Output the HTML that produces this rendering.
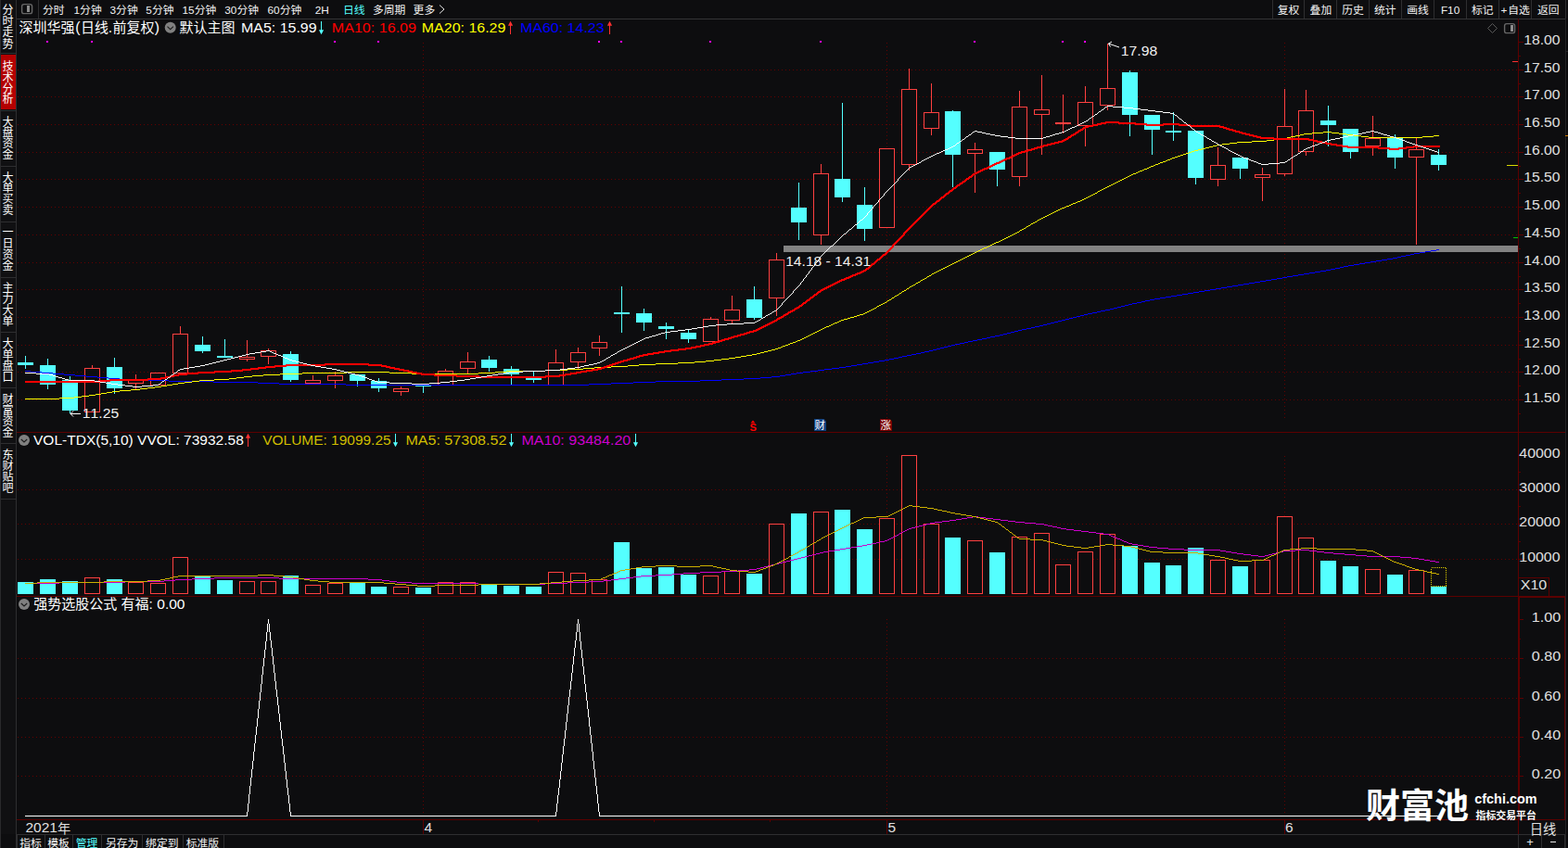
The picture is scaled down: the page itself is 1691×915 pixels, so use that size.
<!DOCTYPE html><html><head><meta charset="utf-8"><title>chart</title><style>html,body{margin:0;padding:0;background:#0d0d0f;width:1691px;height:915px;overflow:hidden;font-family:"Liberation Sans","Noto Sans CJK SC",sans-serif}</style></head><body><svg width="1691" height="915" viewBox="0 0 1691 915" font-family="'Liberation Sans', 'Noto Sans CJK SC', sans-serif" shape-rendering="crispEdges" style="display:block;font-kerning:none"><rect x="0" y="0" width="1691" height="915" fill="#0d0d0f"/>
<rect x="0" y="0" width="17" height="900" fill="#101012"/>
<rect x="0" y="0" width="1" height="915" fill="#2a2a2c"/>
<rect x="17" y="0" width="1" height="915" fill="#2e2e30"/>
<rect x="1" y="59" width="16" height="59" fill="#b40000"/>
<text font-size="12" fill="#ffffff"><tspan x="2.6" y="14.8">分</tspan><tspan x="2.6" y="27">时</tspan><tspan x="2.6" y="39.4">走</tspan><tspan x="2.6" y="51.7">势</tspan></text>
<text font-size="12" fill="#ffffff"><tspan x="2.6" y="75.7">技</tspan><tspan x="2.6" y="87.6">术</tspan><tspan x="2.6" y="99.5">分</tspan><tspan x="2.6" y="111.4">析</tspan></text>
<text font-size="12" fill="#ffffff"><tspan x="2.6" y="135.6">大</tspan><tspan x="2.6" y="147.3">盘</tspan><tspan x="2.6" y="159.4">资</tspan><tspan x="2.6" y="171">金</tspan></text>
<text font-size="12" fill="#ffffff"><tspan x="2.6" y="195.5">大</tspan><tspan x="2.6" y="207.4">单</tspan><tspan x="2.6" y="219.3">买</tspan><tspan x="2.6" y="231.2">卖</tspan></text>
<text font-size="12" fill="#ffffff"><tspan x="2.6" y="255.4">一</tspan><tspan x="2.6" y="267.3">日</tspan><tspan x="2.6" y="279.2">资</tspan><tspan x="2.6" y="290.8">金</tspan></text>
<text font-size="12" fill="#ffffff"><tspan x="2.6" y="315">主</tspan><tspan x="2.6" y="327.2">力</tspan><tspan x="2.6" y="339.1">大</tspan><tspan x="2.6" y="351">单</tspan></text>
<text font-size="12" fill="#ffffff"><tspan x="2.6" y="375.2">大</tspan><tspan x="2.6" y="387.1">单</tspan><tspan x="2.6" y="398.8">盘</tspan><tspan x="2.6" y="410.8">口</tspan></text>
<text font-size="12" fill="#ffffff"><tspan x="2.6" y="435.1">财</tspan><tspan x="2.6" y="447">富</tspan><tspan x="2.6" y="458.9">资</tspan><tspan x="2.6" y="470.5">金</tspan></text>
<text font-size="12" fill="#ffffff"><tspan x="2.6" y="494.9">东</tspan><tspan x="2.6" y="506.9">财</tspan><tspan x="2.6" y="518.8">贴</tspan><tspan x="2.6" y="530.6">吧</tspan></text>
<rect x="1" y="119" width="16" height="1" fill="#2e2e30"/>
<rect x="1" y="179" width="16" height="1" fill="#2e2e30"/>
<rect x="1" y="239" width="16" height="1" fill="#2e2e30"/>
<rect x="1" y="299" width="16" height="1" fill="#2e2e30"/>
<rect x="1" y="358" width="16" height="1" fill="#2e2e30"/>
<rect x="1" y="418" width="16" height="1" fill="#2e2e30"/>
<rect x="1" y="478" width="16" height="1" fill="#2e2e30"/>
<rect x="1" y="538" width="16" height="1" fill="#2e2e30"/>
<rect x="1" y="57" width="16" height="1" fill="#2e2e30"/>
<rect x="18" y="20" width="1673" height="1" fill="#343436"/>
<rect x="41" y="0" width="1" height="20" fill="#2e2e30"/>
<rect x="23.6" y="4.6" width="11" height="10" rx="2.2" fill="none" stroke="#666" stroke-width="1.4" shape-rendering="auto"/>
<rect x="29" y="6" width="3" height="7" fill="#8c8c8c"/>
<text x="46" y="14.8" font-size="11.8" fill="#f2f2f2">分时</text>
<text x="79.4" y="15" font-size="11.8" fill="#f2f2f2">1</text>
<text x="86.1" y="14.8" font-size="11.8" fill="#f2f2f2">分钟</text>
<text x="118.4" y="15" font-size="11.8" fill="#f2f2f2">3</text>
<text x="125.1" y="14.8" font-size="11.8" fill="#f2f2f2">分钟</text>
<text x="157.2" y="15" font-size="11.8" fill="#f2f2f2">5</text>
<text x="163.9" y="14.8" font-size="11.8" fill="#f2f2f2">分钟</text>
<text x="196.4" y="15" font-size="11.8" fill="#f2f2f2">15</text>
<text x="209.7" y="14.8" font-size="11.8" fill="#f2f2f2">分钟</text>
<text x="242.2" y="15" font-size="11.8" fill="#f2f2f2">30</text>
<text x="255.5" y="14.8" font-size="11.8" fill="#f2f2f2">分钟</text>
<text x="288.4" y="15" font-size="11.8" fill="#f2f2f2">60</text>
<text x="301.7" y="14.8" font-size="11.8" fill="#f2f2f2">分钟</text>
<text x="339.7" y="15" font-size="11.8" fill="#f2f2f2">2H</text>
<text x="402" y="14.8" font-size="11.8" fill="#f2f2f2">多周期</text>
<text x="445.6" y="14.8" font-size="11.8" fill="#f2f2f2">更多</text>
<text x="370" y="14.8" font-size="11.8" fill="#54ffff">日线</text>
<path d="M474 5.5 L479 10 L474 14.5" fill="none" stroke="#e6e6e6" stroke-width="1" shape-rendering="auto"/>
<rect x="1372" y="0" width="1" height="20" fill="#2e2e30"/>
<rect x="1406" y="0" width="1" height="20" fill="#2e2e30"/>
<rect x="1441" y="0" width="1" height="20" fill="#2e2e30"/>
<rect x="1476" y="0" width="1" height="20" fill="#2e2e30"/>
<rect x="1511" y="0" width="1" height="20" fill="#2e2e30"/>
<rect x="1546" y="0" width="1" height="20" fill="#2e2e30"/>
<rect x="1581" y="0" width="1" height="20" fill="#2e2e30"/>
<rect x="1616" y="0" width="1" height="20" fill="#2e2e30"/>
<rect x="1651" y="0" width="1" height="20" fill="#2e2e30"/>
<rect x="1688" y="0" width="1" height="20" fill="#2e2e30"/>
<text x="1377.8" y="14.8" font-size="11.8" fill="#f2f2f2">复权</text>
<text x="1412.6" y="14.8" font-size="11.8" fill="#f2f2f2">叠加</text>
<text x="1447.2" y="14.8" font-size="11.8" fill="#f2f2f2">历史</text>
<text x="1482" y="14.8" font-size="11.8" fill="#f2f2f2">统计</text>
<text x="1517.3" y="14.8" font-size="11.8" fill="#f2f2f2">画线</text>
<text x="1553.88" y="15" font-size="11.8" fill="#f2f2f2">F10</text>
<text x="1587" y="14.8" font-size="11.8" fill="#f2f2f2">标记</text>
<text x="1618.5" y="15" font-size="11.8" fill="#f2f2f2">+</text>
<text x="1626.3" y="14.8" font-size="11.8" fill="#f2f2f2">自选</text>
<text x="1657.9" y="14.8" font-size="11.8" fill="#f2f2f2">返回</text>
<path d="M1609.5 25.5 L1614.5 30.5 L1609.5 35.5 L1604.5 30.5 Z" fill="none" stroke="#5a5a5a" shape-rendering="auto"/>
<rect x="1622.6" y="25.6" width="11" height="10" rx="2.2" fill="none" stroke="#666" stroke-width="1.4" shape-rendering="auto"/>
<rect x="1629" y="27" width="3" height="7" fill="#8c8c8c"/>
<rect x="1688" y="20" width="1" height="895" fill="#232325"/>
<rect x="1689" y="20" width="2" height="895" fill="#0a0a0c"/>
<rect x="1688" y="146" width="3" height="1" fill="#c87800"/>
<rect x="1688" y="55" width="3" height="1" fill="#232325"/>
<rect x="18" y="466" width="1670" height="1" fill="#5c0000"/>
<rect x="18" y="643" width="1670" height="1" fill="#5c0000"/>
<rect x="18" y="884" width="1670" height="1" fill="#5c0000"/>
<rect x="18" y="900" width="1670" height="1" fill="#2e2e30"/>
<rect x="1637" y="20" width="1" height="880" fill="#5c0000"/>
<rect x="1638" y="643" width="1" height="241" fill="#5c0000"/>
<rect x="1687" y="643" width="1" height="241" fill="#5c0000"/>
<rect x="1637" y="644" width="51" height="1" fill="#5c0000"/>
<rect x="1637" y="623" width="34" height="1" fill="#5c0000"/>
<rect x="1670" y="623" width="1" height="20" fill="#5c0000"/>
<line x1="19" y1="75.5" x2="1637" y2="75.5" stroke="#640000" stroke-dasharray="1 3"/>
<line x1="19" y1="104.5" x2="1637" y2="104.5" stroke="#640000" stroke-dasharray="1 3"/>
<line x1="19" y1="134.5" x2="1637" y2="134.5" stroke="#640000" stroke-dasharray="1 3"/>
<line x1="19" y1="164.5" x2="1637" y2="164.5" stroke="#640000" stroke-dasharray="1 3"/>
<line x1="19" y1="193.5" x2="1637" y2="193.5" stroke="#640000" stroke-dasharray="1 3"/>
<line x1="19" y1="223.5" x2="1637" y2="223.5" stroke="#640000" stroke-dasharray="1 3"/>
<line x1="19" y1="253.5" x2="1637" y2="253.5" stroke="#640000" stroke-dasharray="1 3"/>
<line x1="19" y1="283.5" x2="1637" y2="283.5" stroke="#640000" stroke-dasharray="1 3"/>
<line x1="19" y1="312.5" x2="1637" y2="312.5" stroke="#640000" stroke-dasharray="1 3"/>
<line x1="19" y1="342.5" x2="1637" y2="342.5" stroke="#640000" stroke-dasharray="1 3"/>
<line x1="19" y1="372.5" x2="1637" y2="372.5" stroke="#640000" stroke-dasharray="1 3"/>
<line x1="19" y1="401.5" x2="1637" y2="401.5" stroke="#640000" stroke-dasharray="1 3"/>
<line x1="19" y1="431.5" x2="1637" y2="431.5" stroke="#640000" stroke-dasharray="1 3"/>
<line x1="19" y1="528.5" x2="1637" y2="528.5" stroke="#640000" stroke-dasharray="1 3"/>
<line x1="19" y1="565.5" x2="1637" y2="565.5" stroke="#640000" stroke-dasharray="1 3"/>
<line x1="19" y1="603.5" x2="1637" y2="603.5" stroke="#640000" stroke-dasharray="1 3"/>
<line x1="19" y1="710.5" x2="1637" y2="710.5" stroke="#640000" stroke-dasharray="1 3"/>
<line x1="19" y1="753.5" x2="1637" y2="753.5" stroke="#640000" stroke-dasharray="1 3"/>
<line x1="19" y1="795.5" x2="1637" y2="795.5" stroke="#640000" stroke-dasharray="1 3"/>
<line x1="19" y1="837.5" x2="1637" y2="837.5" stroke="#640000" stroke-dasharray="1 3"/>
<line x1="456.5" y1="46" x2="456.5" y2="452" stroke="#640000" stroke-dasharray="1 3"/>
<line x1="456.5" y1="492" x2="456.5" y2="641" stroke="#640000" stroke-dasharray="1 3"/>
<line x1="456.5" y1="668" x2="456.5" y2="881" stroke="#640000" stroke-dasharray="1 3"/>
<rect x="456" y="884" width="1" height="16" fill="#5c0000"/>
<line x1="956.5" y1="46" x2="956.5" y2="452" stroke="#640000" stroke-dasharray="1 3"/>
<line x1="956.5" y1="492" x2="956.5" y2="641" stroke="#640000" stroke-dasharray="1 3"/>
<line x1="956.5" y1="668" x2="956.5" y2="881" stroke="#640000" stroke-dasharray="1 3"/>
<rect x="956" y="884" width="1" height="16" fill="#5c0000"/>
<line x1="1385.5" y1="46" x2="1385.5" y2="452" stroke="#640000" stroke-dasharray="1 3"/>
<line x1="1385.5" y1="492" x2="1385.5" y2="641" stroke="#640000" stroke-dasharray="1 3"/>
<line x1="1385.5" y1="668" x2="1385.5" y2="881" stroke="#640000" stroke-dasharray="1 3"/>
<rect x="1385" y="884" width="1" height="16" fill="#5c0000"/>
<rect x="580" y="885" width="1" height="2" fill="#5c0000"/>
<rect x="705" y="885" width="1" height="2" fill="#5c0000"/>
<rect x="830" y="885" width="1" height="2" fill="#5c0000"/>
<rect x="1637" y="45" width="6" height="1" fill="#5c0000"/>
<rect x="1637" y="60" width="3" height="1" fill="#5c0000"/>
<rect x="1637" y="75" width="6" height="1" fill="#5c0000"/>
<rect x="1637" y="90" width="3" height="1" fill="#5c0000"/>
<rect x="1637" y="104" width="6" height="1" fill="#5c0000"/>
<rect x="1637" y="119" width="3" height="1" fill="#5c0000"/>
<rect x="1637" y="134" width="6" height="1" fill="#5c0000"/>
<rect x="1637" y="149" width="3" height="1" fill="#5c0000"/>
<rect x="1637" y="164" width="6" height="1" fill="#5c0000"/>
<rect x="1637" y="179" width="3" height="1" fill="#5c0000"/>
<rect x="1637" y="193" width="6" height="1" fill="#5c0000"/>
<rect x="1637" y="208" width="3" height="1" fill="#5c0000"/>
<rect x="1637" y="223" width="6" height="1" fill="#5c0000"/>
<rect x="1637" y="238" width="3" height="1" fill="#5c0000"/>
<rect x="1637" y="253" width="6" height="1" fill="#5c0000"/>
<rect x="1637" y="268" width="3" height="1" fill="#5c0000"/>
<rect x="1637" y="283" width="6" height="1" fill="#5c0000"/>
<rect x="1637" y="298" width="3" height="1" fill="#5c0000"/>
<rect x="1637" y="312" width="6" height="1" fill="#5c0000"/>
<rect x="1637" y="327" width="3" height="1" fill="#5c0000"/>
<rect x="1637" y="342" width="6" height="1" fill="#5c0000"/>
<rect x="1637" y="357" width="3" height="1" fill="#5c0000"/>
<rect x="1637" y="372" width="6" height="1" fill="#5c0000"/>
<rect x="1637" y="387" width="3" height="1" fill="#5c0000"/>
<rect x="1637" y="401" width="6" height="1" fill="#5c0000"/>
<rect x="1637" y="416" width="3" height="1" fill="#5c0000"/>
<rect x="1637" y="431" width="6" height="1" fill="#5c0000"/>
<rect x="1637" y="446" width="3" height="1" fill="#5c0000"/>
<rect x="1637" y="491" width="6" height="1" fill="#5c0000"/>
<rect x="1637" y="528" width="6" height="1" fill="#5c0000"/>
<rect x="1637" y="565" width="6" height="1" fill="#5c0000"/>
<rect x="1637" y="603" width="6" height="1" fill="#5c0000"/>
<rect x="1637" y="509" width="3" height="1" fill="#5c0000"/>
<rect x="1637" y="546" width="3" height="1" fill="#5c0000"/>
<rect x="1637" y="584" width="3" height="1" fill="#5c0000"/>
<rect x="1637" y="668" width="6" height="1" fill="#5c0000"/>
<rect x="1637" y="710" width="6" height="1" fill="#5c0000"/>
<rect x="1637" y="753" width="6" height="1" fill="#5c0000"/>
<rect x="1637" y="795" width="6" height="1" fill="#5c0000"/>
<rect x="1637" y="837" width="6" height="1" fill="#5c0000"/>
<rect x="1637" y="689" width="3" height="1" fill="#5c0000"/>
<rect x="1637" y="731" width="3" height="1" fill="#5c0000"/>
<rect x="1637" y="774" width="3" height="1" fill="#5c0000"/>
<rect x="1637" y="816" width="3" height="1" fill="#5c0000"/>
<rect x="1637" y="858" width="3" height="1" fill="#5c0000"/>
<rect x="1631" y="66" width="6" height="1" fill="#ff3030"/>
<rect x="1625" y="178" width="12" height="1" fill="#d8d800"/>
<rect x="1632" y="256" width="5" height="1" fill="#00c000"/>
<rect x="50" y="44" width="2" height="2" fill="#ff00ff"/>
<rect x="98" y="44" width="2" height="2" fill="#ff00ff"/>
<rect x="360" y="44" width="2" height="2" fill="#ff00ff"/>
<rect x="407" y="44" width="2" height="2" fill="#ff00ff"/>
<rect x="645" y="44" width="2" height="2" fill="#ff00ff"/>
<rect x="669" y="44" width="2" height="2" fill="#ff00ff"/>
<rect x="765" y="44" width="2" height="2" fill="#ff00ff"/>
<rect x="884" y="44" width="2" height="2" fill="#ff00ff"/>
<rect x="1050" y="44" width="2" height="2" fill="#ff00ff"/>
<rect x="1145" y="44" width="2" height="2" fill="#ff00ff"/>
<rect x="1169" y="44" width="2" height="2" fill="#ff00ff"/>
<rect x="845" y="265" width="792" height="7" fill="#828282"/>
<rect x="27" y="384" width="1" height="14" fill="#54ffff"/>
<rect x="19" y="391" width="17" height="3" fill="#54ffff"/>
<rect x="51" y="387" width="1" height="33" fill="#54ffff"/>
<rect x="43" y="394" width="17" height="21" fill="#54ffff"/>
<rect x="75" y="406" width="1" height="40" fill="#54ffff"/>
<rect x="67" y="410" width="17" height="33" fill="#54ffff"/>
<rect x="99" y="394" width="1" height="3" fill="#ff4040"/>
<rect x="91.5" y="397.5" width="16" height="47" fill="#0d0d0f" stroke="#ff4040"/>
<rect x="123" y="386" width="1" height="39" fill="#54ffff"/>
<rect x="115" y="396" width="17" height="23" fill="#54ffff"/>
<rect x="146" y="404" width="1" height="6" fill="#ff4040"/>
<rect x="146" y="414" width="1" height="6" fill="#ff4040"/>
<rect x="138.5" y="410.5" width="16" height="3" fill="#0d0d0f" stroke="#ff4040"/>
<rect x="162.5" y="402.5" width="16" height="13" fill="#0d0d0f" stroke="#ff4040"/>
<rect x="194" y="352" width="1" height="8" fill="#ff4040"/>
<rect x="186.5" y="360.5" width="16" height="42" fill="#0d0d0f" stroke="#ff4040"/>
<rect x="218" y="363" width="1" height="18" fill="#54ffff"/>
<rect x="210" y="372" width="17" height="7" fill="#54ffff"/>
<rect x="242" y="366" width="1" height="20" fill="#54ffff"/>
<rect x="234" y="384" width="17" height="2" fill="#54ffff"/>
<rect x="266" y="367" width="1" height="18" fill="#ff4040"/>
<rect x="266" y="388" width="1" height="2" fill="#ff4040"/>
<rect x="258.5" y="385.5" width="16" height="2" fill="#0d0d0f" stroke="#ff4040"/>
<rect x="289" y="376" width="1" height="2" fill="#ff4040"/>
<rect x="289" y="385" width="1" height="8" fill="#ff4040"/>
<rect x="281.5" y="378.5" width="16" height="6" fill="#0d0d0f" stroke="#ff4040"/>
<rect x="313" y="379" width="1" height="33" fill="#54ffff"/>
<rect x="305" y="382" width="17" height="28" fill="#54ffff"/>
<rect x="337" y="405" width="1" height="5" fill="#ff4040"/>
<rect x="329.5" y="410.5" width="16" height="3" fill="#0d0d0f" stroke="#ff4040"/>
<rect x="361" y="401" width="1" height="4" fill="#ff4040"/>
<rect x="361" y="411" width="1" height="8" fill="#ff4040"/>
<rect x="353.5" y="405.5" width="16" height="5" fill="#0d0d0f" stroke="#ff4040"/>
<rect x="385" y="404" width="1" height="13" fill="#54ffff"/>
<rect x="377" y="404" width="17" height="7" fill="#54ffff"/>
<rect x="408" y="408" width="1" height="15" fill="#54ffff"/>
<rect x="400" y="411" width="17" height="8" fill="#54ffff"/>
<rect x="432" y="417" width="1" height="2" fill="#ff4040"/>
<rect x="432" y="423" width="1" height="4" fill="#ff4040"/>
<rect x="424.5" y="419.5" width="16" height="3" fill="#0d0d0f" stroke="#ff4040"/>
<rect x="456" y="416" width="1" height="8" fill="#54ffff"/>
<rect x="448" y="416" width="17" height="1" fill="#54ffff"/>
<rect x="480" y="398" width="1" height="2" fill="#ff4040"/>
<rect x="472.5" y="400.5" width="16" height="15" fill="#0d0d0f" stroke="#ff4040"/>
<rect x="504" y="380" width="1" height="10" fill="#ff4040"/>
<rect x="504" y="398" width="1" height="6" fill="#ff4040"/>
<rect x="496.5" y="390.5" width="16" height="7" fill="#0d0d0f" stroke="#ff4040"/>
<rect x="527" y="384" width="1" height="17" fill="#54ffff"/>
<rect x="519" y="388" width="17" height="9" fill="#54ffff"/>
<rect x="551" y="395" width="1" height="21" fill="#54ffff"/>
<rect x="543" y="398" width="17" height="6" fill="#54ffff"/>
<rect x="575" y="401" width="1" height="12" fill="#54ffff"/>
<rect x="567" y="408" width="17" height="2" fill="#54ffff"/>
<rect x="599" y="377" width="1" height="14" fill="#ff4040"/>
<rect x="591.5" y="391.5" width="16" height="24" fill="#0d0d0f" stroke="#ff4040"/>
<rect x="623" y="375" width="1" height="5" fill="#ff4040"/>
<rect x="623" y="391" width="1" height="7" fill="#ff4040"/>
<rect x="615.5" y="380.5" width="16" height="10" fill="#0d0d0f" stroke="#ff4040"/>
<rect x="646" y="362" width="1" height="7" fill="#ff4040"/>
<rect x="646" y="376" width="1" height="8" fill="#ff4040"/>
<rect x="638.5" y="369.5" width="16" height="6" fill="#0d0d0f" stroke="#ff4040"/>
<rect x="670" y="309" width="1" height="50" fill="#54ffff"/>
<rect x="662" y="337" width="17" height="2" fill="#54ffff"/>
<rect x="694" y="333" width="1" height="24" fill="#54ffff"/>
<rect x="686" y="338" width="17" height="10" fill="#54ffff"/>
<rect x="718" y="348" width="1" height="18" fill="#54ffff"/>
<rect x="710" y="352" width="17" height="3" fill="#54ffff"/>
<rect x="742" y="356" width="1" height="14" fill="#54ffff"/>
<rect x="734" y="359" width="17" height="7" fill="#54ffff"/>
<rect x="766" y="342" width="1" height="2" fill="#ff4040"/>
<rect x="758.5" y="344.5" width="16" height="24" fill="#0d0d0f" stroke="#ff4040"/>
<rect x="789" y="319" width="1" height="15" fill="#ff4040"/>
<rect x="789" y="346" width="1" height="3" fill="#ff4040"/>
<rect x="781.5" y="334.5" width="16" height="11" fill="#0d0d0f" stroke="#ff4040"/>
<rect x="813" y="309" width="1" height="36" fill="#54ffff"/>
<rect x="805" y="323" width="17" height="20" fill="#54ffff"/>
<rect x="837" y="273" width="1" height="7" fill="#ff4040"/>
<rect x="837" y="322" width="1" height="19" fill="#ff4040"/>
<rect x="829.5" y="280.5" width="16" height="41" fill="#0d0d0f" stroke="#ff4040"/>
<rect x="861" y="197" width="1" height="62" fill="#54ffff"/>
<rect x="853" y="224" width="17" height="16" fill="#54ffff"/>
<rect x="885" y="177" width="1" height="10" fill="#ff4040"/>
<rect x="885" y="254" width="1" height="10" fill="#ff4040"/>
<rect x="877.5" y="187.5" width="16" height="66" fill="#0d0d0f" stroke="#ff4040"/>
<rect x="908" y="111" width="1" height="107" fill="#54ffff"/>
<rect x="900" y="193" width="17" height="20" fill="#54ffff"/>
<rect x="932" y="202" width="1" height="58" fill="#54ffff"/>
<rect x="924" y="221" width="17" height="26" fill="#54ffff"/>
<rect x="948.5" y="160.5" width="16" height="85" fill="#0d0d0f" stroke="#ff4040"/>
<rect x="980" y="74" width="1" height="22" fill="#ff4040"/>
<rect x="980" y="178" width="1" height="6" fill="#ff4040"/>
<rect x="972.5" y="96.5" width="16" height="81" fill="#0d0d0f" stroke="#ff4040"/>
<rect x="1004" y="90" width="1" height="31" fill="#ff4040"/>
<rect x="1004" y="139" width="1" height="7" fill="#ff4040"/>
<rect x="996.5" y="121.5" width="16" height="17" fill="#0d0d0f" stroke="#ff4040"/>
<rect x="1027" y="119" width="1" height="83" fill="#54ffff"/>
<rect x="1019" y="120" width="17" height="47" fill="#54ffff"/>
<rect x="1051" y="154" width="1" height="7" fill="#ff4040"/>
<rect x="1051" y="166" width="1" height="42" fill="#ff4040"/>
<rect x="1043.5" y="161.5" width="16" height="4" fill="#0d0d0f" stroke="#ff4040"/>
<rect x="1075" y="164" width="1" height="37" fill="#54ffff"/>
<rect x="1067" y="164" width="17" height="19" fill="#54ffff"/>
<rect x="1099" y="98" width="1" height="17" fill="#ff4040"/>
<rect x="1099" y="191" width="1" height="10" fill="#ff4040"/>
<rect x="1091.5" y="115.5" width="16" height="75" fill="#0d0d0f" stroke="#ff4040"/>
<rect x="1123" y="81" width="1" height="37" fill="#ff4040"/>
<rect x="1123" y="124" width="1" height="43" fill="#ff4040"/>
<rect x="1115.5" y="118.5" width="16" height="5" fill="#0d0d0f" stroke="#ff4040"/>
<rect x="1146" y="102" width="1" height="30" fill="#ff4040"/>
<rect x="1146" y="134" width="1" height="10" fill="#ff4040"/>
<rect x="1138" y="132" width="17" height="2" fill="#ff4040"/>
<rect x="1170" y="93" width="1" height="17" fill="#ff4040"/>
<rect x="1170" y="136" width="1" height="22" fill="#ff4040"/>
<rect x="1162.5" y="110.5" width="16" height="25" fill="#0d0d0f" stroke="#ff4040"/>
<rect x="1194" y="47" width="1" height="48" fill="#ff4040"/>
<rect x="1194" y="114" width="1" height="5" fill="#ff4040"/>
<rect x="1186.5" y="95.5" width="16" height="18" fill="#0d0d0f" stroke="#ff4040"/>
<rect x="1218" y="76" width="1" height="71" fill="#54ffff"/>
<rect x="1210" y="78" width="17" height="46" fill="#54ffff"/>
<rect x="1242" y="124" width="1" height="43" fill="#54ffff"/>
<rect x="1234" y="124" width="17" height="16" fill="#54ffff"/>
<rect x="1265" y="121" width="1" height="31" fill="#54ffff"/>
<rect x="1257" y="141" width="17" height="2" fill="#54ffff"/>
<rect x="1289" y="141" width="1" height="58" fill="#54ffff"/>
<rect x="1281" y="141" width="17" height="51" fill="#54ffff"/>
<rect x="1313" y="159" width="1" height="19" fill="#ff4040"/>
<rect x="1313" y="194" width="1" height="7" fill="#ff4040"/>
<rect x="1305.5" y="178.5" width="16" height="15" fill="#0d0d0f" stroke="#ff4040"/>
<rect x="1337" y="170" width="1" height="23" fill="#54ffff"/>
<rect x="1329" y="170" width="17" height="12" fill="#54ffff"/>
<rect x="1361" y="181" width="1" height="7" fill="#ff4040"/>
<rect x="1361" y="192" width="1" height="25" fill="#ff4040"/>
<rect x="1353.5" y="188.5" width="16" height="3" fill="#0d0d0f" stroke="#ff4040"/>
<rect x="1385" y="96" width="1" height="40" fill="#ff4040"/>
<rect x="1385" y="188" width="1" height="2" fill="#ff4040"/>
<rect x="1377.5" y="136.5" width="16" height="51" fill="#0d0d0f" stroke="#ff4040"/>
<rect x="1408" y="97" width="1" height="22" fill="#ff4040"/>
<rect x="1408" y="164" width="1" height="4" fill="#ff4040"/>
<rect x="1400.5" y="119.5" width="16" height="44" fill="#0d0d0f" stroke="#ff4040"/>
<rect x="1432" y="114" width="1" height="44" fill="#54ffff"/>
<rect x="1424" y="130" width="17" height="5" fill="#54ffff"/>
<rect x="1456" y="139" width="1" height="32" fill="#54ffff"/>
<rect x="1448" y="139" width="17" height="25" fill="#54ffff"/>
<rect x="1480" y="125" width="1" height="24" fill="#ff4040"/>
<rect x="1480" y="158" width="1" height="10" fill="#ff4040"/>
<rect x="1472.5" y="149.5" width="16" height="8" fill="#0d0d0f" stroke="#ff4040"/>
<rect x="1504" y="145" width="1" height="37" fill="#54ffff"/>
<rect x="1496" y="149" width="17" height="21" fill="#54ffff"/>
<rect x="1527" y="148" width="1" height="13" fill="#ff4040"/>
<rect x="1527" y="170" width="1" height="94" fill="#ff4040"/>
<rect x="1519.5" y="161.5" width="16" height="8" fill="#0d0d0f" stroke="#ff4040"/>
<rect x="1551" y="161" width="1" height="23" fill="#54ffff"/>
<rect x="1543" y="167" width="17" height="11" fill="#54ffff"/>
<rect x="19" y="628" width="17" height="13" fill="#54ffff"/>
<rect x="43" y="625" width="17" height="16" fill="#54ffff"/>
<rect x="67" y="627" width="17" height="14" fill="#54ffff"/>
<rect x="91.5" y="623.5" width="16" height="17" fill="#0d0d0f" stroke="#ff4040"/>
<rect x="115" y="625" width="17" height="16" fill="#54ffff"/>
<rect x="138.5" y="628.5" width="16" height="12" fill="#0d0d0f" stroke="#ff4040"/>
<rect x="162.5" y="629.5" width="16" height="11" fill="#0d0d0f" stroke="#ff4040"/>
<rect x="186.5" y="601.5" width="16" height="39" fill="#0d0d0f" stroke="#ff4040"/>
<rect x="210" y="621" width="17" height="20" fill="#54ffff"/>
<rect x="234" y="626" width="17" height="15" fill="#54ffff"/>
<rect x="258.5" y="627.5" width="16" height="13" fill="#0d0d0f" stroke="#ff4040"/>
<rect x="281.5" y="627.5" width="16" height="13" fill="#0d0d0f" stroke="#ff4040"/>
<rect x="305" y="621" width="17" height="20" fill="#54ffff"/>
<rect x="329.5" y="631.5" width="16" height="9" fill="#0d0d0f" stroke="#ff4040"/>
<rect x="353.5" y="629.5" width="16" height="11" fill="#0d0d0f" stroke="#ff4040"/>
<rect x="377" y="629" width="17" height="12" fill="#54ffff"/>
<rect x="400" y="633" width="17" height="8" fill="#54ffff"/>
<rect x="424.5" y="633.5" width="16" height="7" fill="#0d0d0f" stroke="#ff4040"/>
<rect x="448" y="634" width="17" height="7" fill="#54ffff"/>
<rect x="472.5" y="628.5" width="16" height="12" fill="#0d0d0f" stroke="#ff4040"/>
<rect x="496.5" y="628.5" width="16" height="12" fill="#0d0d0f" stroke="#ff4040"/>
<rect x="519" y="630" width="17" height="11" fill="#54ffff"/>
<rect x="543" y="632" width="17" height="9" fill="#54ffff"/>
<rect x="567" y="633" width="17" height="8" fill="#54ffff"/>
<rect x="591.5" y="617.5" width="16" height="23" fill="#0d0d0f" stroke="#ff4040"/>
<rect x="615.5" y="618.5" width="16" height="22" fill="#0d0d0f" stroke="#ff4040"/>
<rect x="638.5" y="625.5" width="16" height="15" fill="#0d0d0f" stroke="#ff4040"/>
<rect x="662" y="585" width="17" height="56" fill="#54ffff"/>
<rect x="686" y="613" width="17" height="28" fill="#54ffff"/>
<rect x="710" y="612" width="17" height="29" fill="#54ffff"/>
<rect x="734" y="620" width="17" height="21" fill="#54ffff"/>
<rect x="758.5" y="621.5" width="16" height="19" fill="#0d0d0f" stroke="#ff4040"/>
<rect x="781.5" y="616.5" width="16" height="24" fill="#0d0d0f" stroke="#ff4040"/>
<rect x="805" y="619" width="17" height="22" fill="#54ffff"/>
<rect x="829.5" y="565.5" width="16" height="75" fill="#0d0d0f" stroke="#ff4040"/>
<rect x="853" y="554" width="17" height="87" fill="#54ffff"/>
<rect x="877.5" y="552.5" width="16" height="88" fill="#0d0d0f" stroke="#ff4040"/>
<rect x="900" y="550" width="17" height="91" fill="#54ffff"/>
<rect x="924" y="571" width="17" height="70" fill="#54ffff"/>
<rect x="948.5" y="559.5" width="16" height="81" fill="#0d0d0f" stroke="#ff4040"/>
<rect x="972.5" y="491.5" width="16" height="149" fill="#0d0d0f" stroke="#ff4040"/>
<rect x="996.5" y="565.5" width="16" height="75" fill="#0d0d0f" stroke="#ff4040"/>
<rect x="1019" y="580" width="17" height="61" fill="#54ffff"/>
<rect x="1043.5" y="583.5" width="16" height="57" fill="#0d0d0f" stroke="#ff4040"/>
<rect x="1067" y="596" width="17" height="45" fill="#54ffff"/>
<rect x="1091.5" y="579.5" width="16" height="61" fill="#0d0d0f" stroke="#ff4040"/>
<rect x="1115.5" y="575.5" width="16" height="65" fill="#0d0d0f" stroke="#ff4040"/>
<rect x="1138.5" y="609.5" width="16" height="31" fill="#0d0d0f" stroke="#ff4040"/>
<rect x="1162.5" y="595.5" width="16" height="45" fill="#0d0d0f" stroke="#ff4040"/>
<rect x="1186.5" y="576.5" width="16" height="64" fill="#0d0d0f" stroke="#ff4040"/>
<rect x="1210" y="589" width="17" height="52" fill="#54ffff"/>
<rect x="1234" y="607" width="17" height="34" fill="#54ffff"/>
<rect x="1257" y="610" width="17" height="31" fill="#54ffff"/>
<rect x="1281" y="591" width="17" height="50" fill="#54ffff"/>
<rect x="1305.5" y="604.5" width="16" height="36" fill="#0d0d0f" stroke="#ff4040"/>
<rect x="1329" y="611" width="17" height="30" fill="#54ffff"/>
<rect x="1353.5" y="604.5" width="16" height="36" fill="#0d0d0f" stroke="#ff4040"/>
<rect x="1377.5" y="557.5" width="16" height="83" fill="#0d0d0f" stroke="#ff4040"/>
<rect x="1400.5" y="580.5" width="16" height="60" fill="#0d0d0f" stroke="#ff4040"/>
<rect x="1424" y="605" width="17" height="36" fill="#54ffff"/>
<rect x="1448" y="611" width="17" height="30" fill="#54ffff"/>
<rect x="1472.5" y="614.5" width="16" height="26" fill="#0d0d0f" stroke="#ff4040"/>
<rect x="1496" y="620" width="17" height="21" fill="#54ffff"/>
<rect x="1519.5" y="615.5" width="16" height="25" fill="#0d0d0f" stroke="#ff4040"/>
<rect x="1543" y="633" width="17" height="8" fill="#54ffff"/>
<rect x="1543.5" y="612.5" width="16" height="20" fill="none" stroke="#e0d000" stroke-dasharray="1 1"/>
<path fill="none" stroke="#0000ff" stroke-width="1" d="M1549 269.5h3M1543 270.5h6M1537 271.5h6M1531 272.5h6M1525 273.5h6M1521 274.5h4M1516 275.5h5M1511 276.5h5M1507 277.5h4M1502 278.5h5M1496 279.5h6M1490 280.5h6M1484 281.5h6M1478 282.5h6M1472 283.5h6M1466 284.5h6M1460 285.5h6M1454 286.5h6M1449 287.5h5M1445 288.5h4M1440 289.5h5M1435 290.5h5M1430 291.5h5M1424 292.5h6M1418 293.5h6M1412 294.5h6M1406 295.5h6M1400 296.5h6M1394 297.5h6M1388 298.5h6M1383 299.5h5M1377 300.5h6M1371 301.5h6M1365 302.5h6M1359 303.5h6M1353 304.5h6M1347 305.5h6M1341 306.5h6M1335 307.5h6M1329 308.5h6M1323 309.5h6M1317 310.5h6M1311 311.5h6M1305 312.5h6M1299 313.5h6M1293 314.5h6M1287 315.5h6M1281 316.5h6M1275 317.5h6M1269 318.5h6M1263 319.5h6M1257 320.5h6M1251 321.5h6M1245 322.5h6M1240 323.5h5M1235 324.5h5M1231 325.5h4M1226 326.5h5M1221 327.5h5M1217 328.5h4M1213 329.5h4M1209 330.5h4M1205 331.5h4M1201 332.5h4M1197 333.5h4M1192 334.5h5M1187 335.5h5M1183 336.5h4M1178 337.5h5M1173 338.5h5M1169 339.5h4M1165 340.5h4M1161 341.5h4M1157 342.5h4M1153 343.5h4M1149 344.5h4M1145 345.5h4M1141 346.5h4M1137 347.5h4M1133 348.5h4M1129 349.5h4M1125 350.5h4M1121 351.5h4M1116 352.5h5M1112 353.5h4M1107 354.5h5M1102 355.5h5M1098 356.5h4M1094 357.5h4M1090 358.5h4M1086 359.5h4M1082 360.5h4M1078 361.5h4M1073 362.5h5M1068 363.5h5M1064 364.5h4M1059 365.5h5M1054 366.5h5M1049 367.5h5M1044 368.5h5M1040 369.5h4M1035 370.5h5M1030 371.5h5M1026 372.5h4M1022 373.5h4M1018 374.5h4M1014 375.5h4M1010 376.5h4M1006 377.5h4M1002 378.5h4M997 379.5h5M993 380.5h4M988 381.5h5M983 382.5h5M978 383.5h5M973 384.5h5M969 385.5h4M964 386.5h5M959 387.5h5M954 388.5h5M948 389.5h6M942 390.5h6M936 391.5h6M930 392.5h6M924 393.5h6M918 394.5h6M912 395.5h6M905 396.5h7M897 397.5h8M889 398.5h8M882 399.5h7M27 400.5h6M874 400.5h8M33 401.5h12M866 401.5h8M45 402.5h12M859 402.5h7M57 403.5h12M853 403.5h6M69 404.5h12M847 404.5h6M81 405.5h12M841 405.5h6M93 406.5h12M832 406.5h9M105 407.5h12M820 407.5h12M117 408.5h12M802 408.5h18M129 409.5h12M778 409.5h24M141 410.5h41M755 410.5h23M182 411.5h48M707 411.5h48M230 412.5h48M683 412.5h24M278 413.5h23M659 413.5h24M301 414.5h72M635 414.5h24M373 415.5h262"/>
<path fill="none" stroke="#ffff00" stroke-width="1" d="M1427 142.5h9M1415 143.5h12M1436 143.5h8M1406 144.5h9M1444 144.5h8M1402 145.5h4M1452 145.5h8M1397 146.5h5M1460 146.5h8M1546 146.5h6M1392 147.5h5M1468 147.5h8M1534 147.5h12M1388 148.5h4M1476 148.5h58M1382 149.5h6M1374 150.5h8M1366 151.5h8M1350 152.5h16M1334 153.5h16M1326 154.5h8M1318 155.5h8M1312 156.5h6M1308 157.5h4M1304 158.5h4M1300 159.5h4M1296 160.5h4M1292 161.5h4M1288 162.5h4M1285 163.5h3M1282 164.5h3M1279 165.5h3M1276 166.5h3M1273 167.5h3M1270 168.5h3M1267 169.5h3M1264 170.5h3M1262 171.5h2M1259 172.5h3M1257 173.5h2M1254 174.5h3M1251 175.5h3M1249 176.5h2M1246 177.5h3M1244 178.5h2M1241 179.5h3M1239 180.5h2M1237 181.5h2M1234 182.5h3M1232 183.5h2M1229 184.5h3M1227 185.5h2M1225 186.5h2M1222 187.5h3M1220 188.5h2M1218 189.5h2M1216 190.5h2M1214 191.5h2M1212 192.5h2M1210 193.5h2M1208 194.5h2M1206 195.5h2M1204 196.5h2M1202 197.5h2M1200 198.5h2M1198 199.5h2M1196 200.5h2M1194 201.5h2M1192 202.5h2M1190 203.5h2M1188 204.5h2M1186 205.5h2M1184 206.5h2M1183 207.5h1M1181 208.5h2M1179 209.5h2M1177 210.5h2M1175 211.5h2M1173 212.5h2M1171 213.5h2M1169 214.5h2M1167 215.5h2M1165 216.5h2M1162 217.5h3M1160 218.5h2M1157 219.5h3M1155 220.5h2M1153 221.5h2M1150 222.5h3M1148 223.5h2M1145 224.5h3M1143 225.5h2M1141 226.5h2M1139 227.5h2M1137 228.5h2M1135 229.5h2M1133 230.5h2M1131 231.5h2M1129 232.5h2M1127 233.5h2M1125 234.5h2M1123 235.5h2M1121 236.5h2M1119 237.5h2M1118 238.5h1M1116 239.5h2M1114 240.5h2M1112 241.5h2M1111 242.5h1M1109 243.5h2M1107 244.5h2M1106 245.5h1M1104 246.5h2M1102 247.5h2M1100 248.5h2M1099 249.5h1M1097 250.5h2M1095 251.5h2M1093 252.5h2M1091 253.5h2M1089 254.5h2M1087 255.5h2M1085 256.5h2M1083 257.5h2M1081 258.5h2M1079 259.5h2M1077 260.5h2M1074 261.5h3M1072 262.5h2M1070 263.5h2M1068 264.5h2M1066 265.5h2M1064 266.5h2M1061 267.5h3M1059 268.5h2M1057 269.5h2M1055 270.5h2M1053 271.5h2M1051 272.5h2M1049 273.5h2M1047 274.5h2M1045 275.5h2M1043 276.5h2M1041 277.5h2M1039 278.5h2M1037 279.5h2M1035 280.5h2M1033 281.5h2M1031 282.5h2M1029 283.5h2M1027 284.5h2M1025 285.5h2M1023 286.5h2M1021 287.5h2M1019 288.5h2M1017 289.5h2M1015 290.5h2M1013 291.5h2M1011 292.5h2M1009 293.5h2M1007 294.5h2M1005 295.5h2M1004 296.5h1M1002 297.5h2M1000 298.5h2M999 299.5h1M997 300.5h2M995 301.5h2M993 302.5h2M992 303.5h1M990 304.5h2M988 305.5h2M987 306.5h1M985 307.5h2M983 308.5h2M981 309.5h2M980 310.5h1M978 311.5h2M977 312.5h1M975 313.5h2M973 314.5h2M972 315.5h1M970 316.5h2M969 317.5h1M967 318.5h2M965 319.5h2M964 320.5h1M962 321.5h2M961 322.5h1M959 323.5h2M957 324.5h2M956 325.5h1M954 326.5h2M952 327.5h2M950 328.5h2M948 329.5h2M946 330.5h2M945 331.5h1M943 332.5h2M941 333.5h2M939 334.5h2M937 335.5h2M935 336.5h2M933 337.5h2M931 338.5h2M927 339.5h4M924 340.5h3M921 341.5h3M917 342.5h4M914 343.5h3M910 344.5h4M907 345.5h3M905 346.5h2M903 347.5h2M900 348.5h3M898 349.5h2M896 350.5h2M894 351.5h2M891 352.5h3M889 353.5h2M887 354.5h2M885 355.5h2M883 356.5h2M881 357.5h2M879 358.5h2M877 359.5h2M875 360.5h2M873 361.5h2M871 362.5h2M869 363.5h2M867 364.5h2M865 365.5h2M863 366.5h2M860 367.5h3M858 368.5h2M855 369.5h3M852 370.5h3M850 371.5h2M847 372.5h3M844 373.5h3M842 374.5h2M839 375.5h3M836 376.5h3M832 377.5h4M828 378.5h4M824 379.5h4M820 380.5h4M816 381.5h4M811 382.5h5M805 383.5h6M799 384.5h6M793 385.5h6M786 386.5h7M778 387.5h8M770 388.5h8M761 389.5h9M749 390.5h12M731 391.5h18M707 392.5h24M689 393.5h18M677 394.5h12M659 395.5h18M641 396.5h18M629 397.5h12M612 398.5h17M588 399.5h24M546 400.5h42M374 401.5h46M534 401.5h12M326 402.5h48M420 402.5h24M516 402.5h18M302 403.5h24M444 403.5h72M284 404.5h18M272 405.5h12M263 406.5h9M255 407.5h8M247 408.5h8M231 409.5h16M215 410.5h16M207 411.5h8M199 412.5h8M192 413.5h7M186 414.5h6M180 415.5h6M174 416.5h6M167 417.5h7M159 418.5h8M151 419.5h8M141 420.5h10M129 421.5h12M121 422.5h8M115 423.5h6M109 424.5h6M103 425.5h6M96 426.5h7M88 427.5h8M80 428.5h8M64 429.5h16M27 430.5h37"/>
<path fill="none" stroke="#ff0000" stroke-width="1" d="M1192 131.5h15M1187 132.5h38M1183 133.5h10M1206 133.5h31M1254 133.5h18M1178 134.5h10M1224 134.5h60M1173 135.5h11M1236 135.5h19M1271 135.5h45M1170 136.5h9M1283 136.5h37M1168 137.5h6M1315 137.5h8M1167 138.5h4M1319 138.5h7M1165 139.5h4M1322 139.5h8M1163 140.5h5M1325 140.5h8M1162 141.5h4M1329 141.5h8M1160 142.5h4M1332 142.5h8M1159 143.5h4M1336 143.5h8M1157 144.5h4M1339 144.5h9M1155 145.5h5M1343 145.5h9M1154 146.5h4M1347 146.5h9M1152 147.5h4M1351 147.5h9M1151 148.5h4M1355 148.5h19M1149 149.5h4M1359 149.5h53M1147 150.5h5M1373 150.5h44M1145 151.5h5M1411 151.5h10M1141 152.5h7M1416 152.5h10M1137 153.5h9M1420 153.5h11M1133 154.5h9M1425 154.5h11M1129 155.5h9M1430 155.5h12M1125 156.5h9M1435 156.5h13M1122 157.5h8M1441 157.5h13M1524 157.5h29M1118 158.5h8M1447 158.5h40M1516 158.5h37M1115 159.5h8M1453 159.5h46M1508 159.5h17M1112 160.5h7M1486 160.5h31M1108 161.5h8M1498 161.5h11M1105 162.5h8M1101 163.5h8M1098 164.5h8M1096 165.5h6M1094 166.5h5M1092 167.5h5M1090 168.5h5M1088 169.5h5M1085 170.5h6M1083 171.5h6M1081 172.5h5M1079 173.5h5M1077 174.5h5M1074 175.5h6M1072 176.5h6M1070 177.5h5M1068 178.5h5M1066 179.5h5M1064 180.5h5M1061 181.5h6M1059 182.5h6M1057 183.5h5M1055 184.5h5M1053 185.5h5M1051 186.5h5M1049 187.5h5M1048 188.5h4M1047 189.5h3M1045 190.5h4M1044 191.5h4M1042 192.5h4M1041 193.5h4M1040 194.5h3M1038 195.5h4M1037 196.5h4M1035 197.5h4M1034 198.5h4M1032 199.5h4M1031 200.5h4M1030 201.5h3M1028 202.5h4M1027 203.5h4M1026 204.5h3M1024 205.5h4M1023 206.5h4M1022 207.5h3M1020 208.5h4M1019 209.5h4M1018 210.5h3M1017 211.5h3M1015 212.5h4M1014 213.5h4M1013 214.5h3M1012 215.5h3M1010 216.5h4M1009 217.5h4M1008 218.5h3M1006 219.5h4M1005 220.5h4M1004 221.5h3M1003 222.5h3M1002 223.5h3M1001 224.5h3M1000 225.5h3M999 226.5h3M998 227.5h3M997 228.5h3M996 229.5h3M995 230.5h3M994 231.5h3M993 232.5h3M992 233.5h3M991 234.5h3M990 235.5h3M989 236.5h3M988 237.5h3M987 238.5h3M986 239.5h3M985 240.5h3M984 241.5h3M983 242.5h3M982 243.5h3M981 244.5h3M980 245.5h3M979 246.5h3M978 247.5h3M977 248.5h3M976 249.5h3M975 250.5h3M974 251.5h3M974 252.5h2M973 253.5h3M972 254.5h3M971 255.5h3M970 256.5h3M969 257.5h3M968 258.5h3M967 259.5h3M966 260.5h3M965 261.5h3M964 262.5h3M963 263.5h3M962 264.5h3M962 265.5h2M961 266.5h3M960 267.5h3M959 268.5h3M958 269.5h3M957 270.5h3M956 271.5h3M955 272.5h3M954 273.5h3M952 274.5h4M951 275.5h4M950 276.5h3M949 277.5h3M948 278.5h3M946 279.5h4M945 280.5h4M944 281.5h3M943 282.5h3M942 283.5h3M940 284.5h4M939 285.5h4M938 286.5h3M937 287.5h3M936 288.5h3M934 289.5h4M933 290.5h4M931 291.5h4M929 292.5h5M927 293.5h5M924 294.5h6M922 295.5h6M919 296.5h6M917 297.5h6M915 298.5h5M912 299.5h6M910 300.5h6M907 301.5h6M905 302.5h6M903 303.5h5M901 304.5h5M899 305.5h5M897 306.5h5M895 307.5h5M893 308.5h5M891 309.5h5M889 310.5h5M887 311.5h5M885 312.5h5M884 313.5h4M882 314.5h4M881 315.5h4M880 316.5h3M878 317.5h4M877 318.5h4M876 319.5h3M874 320.5h4M873 321.5h4M872 322.5h3M870 323.5h4M869 324.5h4M868 325.5h3M866 326.5h4M865 327.5h4M864 328.5h3M862 329.5h4M861 330.5h4M859 331.5h4M857 332.5h5M856 333.5h4M854 334.5h4M852 335.5h5M850 336.5h5M849 337.5h4M847 338.5h4M845 339.5h5M844 340.5h4M842 341.5h4M840 342.5h5M838 343.5h5M837 344.5h4M835 345.5h4M833 346.5h5M831 347.5h5M829 348.5h5M827 349.5h5M825 350.5h5M823 351.5h5M821 352.5h5M819 353.5h5M817 354.5h5M815 355.5h5M812 356.5h6M808 357.5h8M805 358.5h8M802 359.5h7M798 360.5h8M795 361.5h8M791 362.5h8M788 363.5h8M785 364.5h7M781 365.5h8M778 366.5h8M775 367.5h7M771 368.5h8M768 369.5h8M764 370.5h8M759 371.5h10M755 372.5h10M750 373.5h10M745 374.5h11M739 375.5h12M731 376.5h15M723 377.5h17M716 378.5h16M710 379.5h14M704 380.5h13M698 381.5h13M693 382.5h12M689 383.5h10M686 384.5h8M683 385.5h7M679 386.5h8M676 387.5h8M672 388.5h8M669 389.5h8M666 390.5h7M663 391.5h7M350 392.5h48M660 392.5h7M308 393.5h104M657 393.5h7M296 394.5h55M397 394.5h20M654 394.5h7M286 395.5h23M411 395.5h10M651 395.5h7M278 396.5h19M416 396.5h10M648 396.5h7M270 397.5h17M420 397.5h11M644 397.5h8M261 398.5h18M425 398.5h11M638 398.5h11M249 399.5h22M430 399.5h11M632 399.5h13M231 400.5h31M435 400.5h10M626 400.5h13M213 401.5h37M440 401.5h10M621 401.5h12M201 402.5h31M444 402.5h11M615 402.5h12M192 403.5h22M449 403.5h20M609 403.5h13M187 404.5h15M454 404.5h39M603 404.5h13M183 405.5h10M468 405.5h49M588 405.5h22M178 406.5h10M492 406.5h112M173 407.5h11M516 407.5h73M159 408.5h20M118 409.5h56M106 410.5h54M27 411.5h92M27 412.5h80"/>
<path fill="none" stroke="#ffffff" stroke-width="1" d="M1194 114.5h6M1192 115.5h2M1200 115.5h12M1191 116.5h1M1212 116.5h10M1190 117.5h1M1222 117.5h8M1188 118.5h2M1230 118.5h8M1187 119.5h1M1238 119.5h8M1185 120.5h2M1246 120.5h8M1184 121.5h1M1254 121.5h8M1183 122.5h1M1262 122.5h4M1181 123.5h2M1266 123.5h1M1180 124.5h1M1267 124.5h2M1178 125.5h2M1269 125.5h1M1177 126.5h1M1270 126.5h1M1175 127.5h2M1271 127.5h1M1174 128.5h1M1272 128.5h2M1173 129.5h1M1274 129.5h1M1171 130.5h2M1275 130.5h1M1169 131.5h2M1276 131.5h1M1167 132.5h2M1277 132.5h2M1165 133.5h2M1279 133.5h1M1163 134.5h2M1280 134.5h1M1161 135.5h2M1281 135.5h2M1159 136.5h2M1283 136.5h1M1156 137.5h3M1284 137.5h1M1154 138.5h2M1285 138.5h1M1152 139.5h2M1286 139.5h2M1150 140.5h2M1288 140.5h1M1051 141.5h3M1148 141.5h2M1289 141.5h1M1478 141.5h4M1049 142.5h2M1054 142.5h5M1145 142.5h3M1290 142.5h2M1473 142.5h5M1482 142.5h4M1048 143.5h1M1059 143.5h4M1142 143.5h3M1292 143.5h2M1469 143.5h4M1486 143.5h3M1047 144.5h1M1063 144.5h5M1138 144.5h4M1294 144.5h1M1464 144.5h5M1489 144.5h3M1045 145.5h2M1068 145.5h5M1135 145.5h3M1295 145.5h2M1459 145.5h5M1492 145.5h4M1044 146.5h1M1073 146.5h6M1132 146.5h3M1297 146.5h2M1454 146.5h5M1496 146.5h3M1042 147.5h2M1079 147.5h8M1128 147.5h4M1299 147.5h2M1449 147.5h5M1499 147.5h4M1041 148.5h1M1087 148.5h8M1125 148.5h3M1301 148.5h1M1445 148.5h4M1503 148.5h3M1040 149.5h1M1095 149.5h30M1302 149.5h2M1440 149.5h5M1506 149.5h3M1038 150.5h2M1304 150.5h2M1435 150.5h5M1509 150.5h3M1037 151.5h1M1306 151.5h1M1431 151.5h4M1512 151.5h3M1035 152.5h2M1307 152.5h2M1429 152.5h2M1515 152.5h2M1034 153.5h1M1309 153.5h2M1426 153.5h3M1517 153.5h3M1032 154.5h2M1311 154.5h2M1423 154.5h3M1520 154.5h3M1031 155.5h1M1313 155.5h1M1421 155.5h2M1523 155.5h3M1030 156.5h1M1314 156.5h2M1418 156.5h3M1526 156.5h3M1028 157.5h2M1316 157.5h2M1415 157.5h3M1529 157.5h3M1026 158.5h2M1318 158.5h2M1413 158.5h2M1532 158.5h3M1024 159.5h2M1320 159.5h2M1410 159.5h3M1535 159.5h3M1022 160.5h2M1322 160.5h2M1408 160.5h2M1538 160.5h3M1019 161.5h3M1324 161.5h1M1406 161.5h2M1541 161.5h3M1017 162.5h2M1325 162.5h2M1405 162.5h1M1544 162.5h3M1015 163.5h2M1327 163.5h2M1403 163.5h2M1547 163.5h3M1013 164.5h2M1329 164.5h2M1402 164.5h1M1550 164.5h2M1010 165.5h3M1331 165.5h2M1400 165.5h2M1008 166.5h2M1333 166.5h2M1399 166.5h1M1006 167.5h2M1335 167.5h2M1397 167.5h2M1004 168.5h2M1337 168.5h2M1395 168.5h2M1002 169.5h2M1339 169.5h2M1394 169.5h1M1000 170.5h2M1341 170.5h3M1392 170.5h2M998 171.5h2M1344 171.5h3M1391 171.5h1M996 172.5h2M1347 172.5h2M1389 172.5h2M994 173.5h2M1349 173.5h3M1388 173.5h1M993 174.5h1M1352 174.5h3M1386 174.5h2M991 175.5h2M1355 175.5h2M1380 175.5h6M989 176.5h2M1357 176.5h3M1368 176.5h12M987 177.5h2M1360 177.5h8M985 178.5h2M983 179.5h2M981 180.5h2M980 181.5h1M979 182.5h1M978 183.5h1M977 184.5h1M976 185.5h1M975 186.5h1M974 187.5h1M973 188.5h1M972 189.5h1M971 190.5h1M970 191.5h1M969 192.5h1M968 193.5h1M968 194.5h1M967 195.5h1M966 196.5h1M965 197.5h1M964 198.5h1M963 199.5h1M962 200.5h1M961 201.5h1M960 202.5h1M959 203.5h1M958 204.5h1M957 205.5h1M956 206.5h1M955 207.5h1M954 208.5h1M953 209.5h1M953 210.5h1M952 211.5h1M951 212.5h1M950 213.5h1M949 214.5h1M948 215.5h1M947 216.5h1M947 217.5h1M946 218.5h1M945 219.5h1M944 220.5h1M943 221.5h1M942 222.5h1M941 223.5h1M941 224.5h1M940 225.5h1M939 226.5h1M938 227.5h1M937 228.5h1M936 229.5h1M935 230.5h1M935 231.5h1M934 232.5h1M933 233.5h1M932 234.5h1M931 235.5h1M930 236.5h1M928 237.5h2M927 238.5h1M926 239.5h1M925 240.5h1M924 241.5h1M922 242.5h2M921 243.5h1M920 244.5h1M919 245.5h1M918 246.5h1M916 247.5h2M915 248.5h1M914 249.5h1M913 250.5h1M912 251.5h1M910 252.5h2M909 253.5h1M908 254.5h1M907 255.5h1M906 256.5h1M905 257.5h1M904 258.5h1M903 259.5h1M902 260.5h1M901 261.5h1M900 262.5h1M899 263.5h1M898 264.5h1M896 265.5h2M895 266.5h1M894 267.5h1M893 268.5h1M892 269.5h1M891 270.5h1M890 271.5h1M889 272.5h1M888 273.5h1M887 274.5h1M886 275.5h1M885 276.5h1M884 277.5h1M884 278.5h1M883 279.5h1M882 280.5h1M881 281.5h1M881 282.5h1M880 283.5h1M879 284.5h1M878 285.5h1M878 286.5h1M877 287.5h1M876 288.5h1M875 289.5h1M875 290.5h1M874 291.5h1M873 292.5h1M872 293.5h1M872 294.5h1M871 295.5h1M870 296.5h1M869 297.5h1M869 298.5h1M868 299.5h1M867 300.5h1M866 301.5h1M866 302.5h1M865 303.5h1M864 304.5h1M863 305.5h1M863 306.5h1M862 307.5h1M861 308.5h1M860 309.5h1M859 310.5h1M858 311.5h1M857 312.5h1M856 313.5h1M855 314.5h1M855 315.5h1M854 316.5h1M853 317.5h1M852 318.5h1M851 319.5h1M850 320.5h1M849 321.5h1M848 322.5h1M847 323.5h1M846 324.5h1M845 325.5h1M844 326.5h1M843 327.5h1M843 328.5h1M842 329.5h1M841 330.5h1M840 331.5h1M839 332.5h1M838 333.5h1M837 334.5h1M835 335.5h2M833 336.5h2M832 337.5h1M830 338.5h2M828 339.5h2M826 340.5h2M825 341.5h1M823 342.5h2M821 343.5h2M820 344.5h1M818 345.5h2M816 346.5h2M814 347.5h2M802 348.5h12M784 349.5h18M772 350.5h12M764 351.5h8M758 352.5h6M752 353.5h6M746 354.5h6M739 355.5h7M731 356.5h8M723 357.5h8M717 358.5h6M713 359.5h4M710 360.5h3M707 361.5h3M703 362.5h4M700 363.5h3M696 364.5h4M694 365.5h2M692 366.5h2M690 367.5h2M688 368.5h2M686 369.5h2M684 370.5h2M682 371.5h2M680 372.5h2M678 373.5h2M676 374.5h2M674 375.5h2M672 376.5h2M670 377.5h2M287 378.5h4M668 378.5h2M281 379.5h6M291 379.5h2M666 379.5h2M275 380.5h6M293 380.5h2M665 380.5h1M269 381.5h6M295 381.5h3M663 381.5h2M265 382.5h4M298 382.5h2M661 382.5h2M261 383.5h4M300 383.5h3M659 383.5h2M257 384.5h4M303 384.5h2M658 384.5h1M253 385.5h4M305 385.5h2M656 385.5h2M249 386.5h4M307 386.5h3M654 386.5h2M245 387.5h4M310 387.5h2M653 387.5h1M241 388.5h4M312 388.5h3M651 388.5h2M237 389.5h4M315 389.5h4M649 389.5h2M233 390.5h4M319 390.5h4M647 390.5h2M229 391.5h4M323 391.5h4M644 391.5h3M225 392.5h4M327 392.5h4M640 392.5h4M221 393.5h4M331 393.5h4M635 393.5h5M216 394.5h5M335 394.5h5M630 394.5h5M210 395.5h6M340 395.5h6M626 395.5h4M204 396.5h6M346 396.5h6M620 396.5h6M198 397.5h6M352 397.5h6M612 397.5h8M194 398.5h4M358 398.5h5M604 398.5h8M192 399.5h2M363 399.5h4M588 399.5h16M191 400.5h1M367 400.5h4M564 400.5h24M190 401.5h1M371 401.5h4M549 401.5h15M27 402.5h12M188 402.5h2M375 402.5h4M543 402.5h6M39 403.5h14M187 403.5h1M379 403.5h4M537 403.5h6M53 404.5h4M185 404.5h2M383 404.5h4M531 404.5h6M57 405.5h3M184 405.5h1M387 405.5h3M525 405.5h6M60 406.5h3M183 406.5h1M390 406.5h3M519 406.5h6M63 407.5h4M181 407.5h2M393 407.5h3M513 407.5h6M67 408.5h3M180 408.5h1M396 408.5h2M507 408.5h6M70 409.5h4M178 409.5h2M398 409.5h3M501 409.5h6M74 410.5h28M177 410.5h1M401 410.5h3M493 410.5h8M102 411.5h6M175 411.5h2M404 411.5h3M485 411.5h8M108 412.5h6M174 412.5h1M407 412.5h13M475 412.5h10M114 413.5h6M173 413.5h1M420 413.5h24M463 413.5h12M120 414.5h7M171 414.5h2M444 414.5h19M127 415.5h8M165 415.5h6M135 416.5h8M153 416.5h12M143 417.5h10"/>
<path fill="none" stroke="#cc00cc" stroke-width="1" d="M1049 557.5h6M1043 558.5h6M1055 558.5h8M1037 559.5h6M1063 559.5h8M1031 560.5h6M1071 560.5h8M1024 561.5h7M1079 561.5h8M1016 562.5h8M1087 562.5h8M1008 563.5h8M1095 563.5h10M1003 564.5h5M1105 564.5h12M999 565.5h4M1117 565.5h9M995 566.5h4M1126 566.5h4M991 567.5h4M1130 567.5h5M987 568.5h4M1135 568.5h5M983 569.5h4M1140 569.5h4M980 570.5h3M1144 570.5h6M978 571.5h2M1150 571.5h8M976 572.5h2M1158 572.5h8M974 573.5h2M1166 573.5h8M972 574.5h2M1174 574.5h8M970 575.5h2M1182 575.5h8M969 576.5h1M1190 576.5h6M967 577.5h2M1196 577.5h2M965 578.5h2M1198 578.5h2M963 579.5h2M1200 579.5h3M961 580.5h2M1203 580.5h2M959 581.5h2M1205 581.5h3M957 582.5h2M1208 582.5h2M954 583.5h3M1210 583.5h2M949 584.5h5M1212 584.5h3M945 585.5h4M1215 585.5h2M940 586.5h5M1217 586.5h4M935 587.5h5M1221 587.5h6M930 588.5h5M1227 588.5h6M924 589.5h6M1233 589.5h6M918 590.5h6M1239 590.5h9M912 591.5h6M1248 591.5h12M906 592.5h6M1260 592.5h17M900 593.5h6M1277 593.5h39M1397 593.5h15M894 594.5h6M1316 594.5h6M1384 594.5h13M1412 594.5h8M888 595.5h6M1322 595.5h6M1380 595.5h4M1420 595.5h8M884 596.5h4M1328 596.5h6M1376 596.5h4M1428 596.5h10M880 597.5h4M1334 597.5h7M1372 597.5h4M1438 597.5h12M876 598.5h4M1341 598.5h8M1368 598.5h4M1450 598.5h12M872 599.5h4M1349 599.5h8M1364 599.5h4M1462 599.5h12M868 600.5h4M1357 600.5h7M1474 600.5h36M864 601.5h4M1510 601.5h12M860 602.5h4M1522 602.5h8M856 603.5h4M1530 603.5h6M852 604.5h4M1536 604.5h6M848 605.5h4M1542 605.5h6M844 606.5h4M1548 606.5h4M840 607.5h4M836 608.5h4M832 609.5h4M828 610.5h4M824 611.5h4M820 612.5h4M816 613.5h4M808 614.5h8M796 615.5h12M778 616.5h18M755 617.5h23M737 618.5h18M725 619.5h12M707 620.5h18M691 621.5h16M683 622.5h8M231 623.5h70M675 623.5h8M207 624.5h24M301 624.5h96M667 624.5h8M189 625.5h18M397 625.5h15M659 625.5h8M177 626.5h12M412 626.5h8M651 626.5h8M135 627.5h42M420 627.5h8M635 627.5h16M64 628.5h71M428 628.5h16M612 628.5h23M27 629.5h37M444 629.5h72M588 629.5h24M516 630.5h72"/>
<path fill="none" stroke="#ccb000" stroke-width="1" d="M980 545.5h4M978 546.5h2M984 546.5h8M976 547.5h2M992 547.5h8M974 548.5h2M1000 548.5h7M972 549.5h2M1007 549.5h4M970 550.5h2M1011 550.5h5M968 551.5h2M1016 551.5h5M966 552.5h2M1021 552.5h4M964 553.5h2M1025 553.5h5M962 554.5h2M1030 554.5h6M960 555.5h2M1036 555.5h6M958 556.5h2M1042 556.5h6M945 557.5h13M1048 557.5h5M931 558.5h14M1053 558.5h4M929 559.5h2M1057 559.5h4M927 560.5h2M1061 560.5h4M925 561.5h2M1065 561.5h4M923 562.5h2M1069 562.5h4M921 563.5h2M1073 563.5h3M918 564.5h3M1076 564.5h1M916 565.5h2M1077 565.5h2M914 566.5h2M1079 566.5h1M912 567.5h2M1080 567.5h1M910 568.5h2M1081 568.5h2M908 569.5h2M1083 569.5h1M906 570.5h2M1084 570.5h1M904 571.5h2M1085 571.5h2M902 572.5h2M1087 572.5h1M900 573.5h2M1088 573.5h1M898 574.5h2M1089 574.5h2M896 575.5h2M1091 575.5h1M894 576.5h2M1092 576.5h1M892 577.5h2M1093 577.5h2M890 578.5h2M1095 578.5h1M888 579.5h2M1096 579.5h1M886 580.5h2M1097 580.5h2M885 581.5h1M1099 581.5h12M883 582.5h2M1111 582.5h14M881 583.5h2M1125 583.5h4M880 584.5h1M1129 584.5h4M878 585.5h2M1133 585.5h4M876 586.5h2M1137 586.5h4M874 587.5h2M1141 587.5h4M1192 587.5h8M873 588.5h1M1145 588.5h5M1186 588.5h6M1200 588.5h12M871 589.5h2M1150 589.5h8M1180 589.5h6M1212 589.5h8M869 590.5h2M1158 590.5h8M1174 590.5h6M1220 590.5h4M868 591.5h1M1166 591.5h8M1224 591.5h4M1403 591.5h17M866 592.5h2M1228 592.5h4M1391 592.5h12M1420 592.5h42M864 593.5h2M1232 593.5h4M1384 593.5h7M1462 593.5h12M862 594.5h2M1236 594.5h4M1382 594.5h2M1474 594.5h7M861 595.5h1M1240 595.5h14M1380 595.5h2M1481 595.5h2M859 596.5h2M1254 596.5h38M1378 596.5h2M1483 596.5h2M857 597.5h2M1292 597.5h6M1376 597.5h2M1485 597.5h2M855 598.5h2M1298 598.5h6M1374 598.5h2M1487 598.5h2M853 599.5h2M1304 599.5h6M1371 599.5h3M1489 599.5h2M851 600.5h2M1310 600.5h6M1369 600.5h2M1491 600.5h2M850 601.5h1M1316 601.5h5M1367 601.5h2M1493 601.5h2M848 602.5h2M1321 602.5h4M1365 602.5h2M1495 602.5h2M846 603.5h2M1325 603.5h5M1363 603.5h2M1497 603.5h2M844 604.5h2M1330 604.5h5M1350 604.5h13M1499 604.5h2M842 605.5h2M1335 605.5h15M1501 605.5h2M840 606.5h2M1503 606.5h3M838 607.5h2M1506 607.5h3M836 608.5h2M1509 608.5h3M834 609.5h2M1512 609.5h3M707 610.5h23M755 610.5h14M831 610.5h3M1515 610.5h2M692 611.5h15M730 611.5h25M769 611.5h4M828 611.5h3M1517 611.5h3M686 612.5h6M773 612.5h5M826 612.5h2M1520 612.5h3M680 613.5h6M778 613.5h5M823 613.5h3M1523 613.5h3M674 614.5h6M783 614.5h4M820 614.5h3M1526 614.5h4M669 615.5h5M787 615.5h8M818 615.5h2M1530 615.5h5M667 616.5h2M795 616.5h12M815 616.5h3M1535 616.5h4M665 617.5h2M807 617.5h8M1539 617.5h5M662 618.5h3M1544 618.5h5M660 619.5h2M1549 619.5h3M278 620.5h17M657 620.5h3M192 621.5h86M295 621.5h12M655 621.5h2M187 622.5h5M307 622.5h9M653 622.5h2M183 623.5h4M316 623.5h6M650 623.5h3M178 624.5h5M322 624.5h6M648 624.5h2M173 625.5h5M328 625.5h6M635 625.5h13M159 626.5h14M334 626.5h9M618 626.5h17M112 627.5h47M343 627.5h12M606 627.5h12M40 628.5h72M355 628.5h59M594 628.5h12M27 629.5h13M414 629.5h12M582 629.5h12M426 630.5h12M516 630.5h66M438 631.5h12M469 631.5h47M450 632.5h19"/>
<rect x="27" y="880" width="240" height="1" fill="#ffffff"/>
<rect x="313" y="880" width="287" height="1" fill="#ffffff"/>
<rect x="646" y="880" width="906" height="1" fill="#ffffff"/>
<path fill="none" stroke="#ffffff" stroke-width="1" d="M266.5 876v5M267.5 867v9M268.5 857v10M269.5 848v9M270.5 839v9M271.5 830v9M272.5 821v9M273.5 811v10M274.5 802v9M275.5 793v9M276.5 784v9M277.5 775v9M278.5 765v10M279.5 756v9M280.5 747v9M281.5 738v9M282.5 728v10M283.5 719v9M284.5 710v9M285.5 701v9M286.5 692v9M287.5 682v10M288.5 673v9M289.5 668v5M290.5 673v9M291.5 682v9M292.5 691v8M293.5 699v9M294.5 708v9M295.5 717v9M296.5 726v9M297.5 735v9M298.5 744v8M299.5 752v9M300.5 761v9M301.5 770v9M302.5 779v9M303.5 788v9M304.5 797v8M305.5 805v9M306.5 814v9M307.5 823v9M308.5 832v9M309.5 841v9M310.5 850v8M311.5 858v9M312.5 867v9M313.5 876v5"/>
<path fill="none" stroke="#ffffff" stroke-width="1" d="M599.5 876v5M600.5 867v9M601.5 858v9M602.5 850v8M603.5 841v9M604.5 832v9M605.5 823v9M606.5 814v9M607.5 805v9M608.5 797v8M609.5 788v9M610.5 779v9M611.5 770v9M612.5 761v9M613.5 752v9M614.5 744v8M615.5 735v9M616.5 726v9M617.5 717v9M618.5 708v9M619.5 699v9M620.5 691v8M621.5 682v9M622.5 673v9M623.5 668v5M624.5 673v9M625.5 682v10M626.5 692v9M627.5 701v9M628.5 710v9M629.5 719v9M630.5 728v10M631.5 738v9M632.5 747v9M633.5 756v9M634.5 765v9M635.5 774v10M636.5 784v9M637.5 793v9M638.5 802v9M639.5 811v10M640.5 821v9M641.5 830v9M642.5 839v9M643.5 848v9M644.5 857v10M645.5 867v9M646.5 876v5"/>
<path d="M1195.5 47 L1207 51 M1195.5 47 L1199 45 M1195.5 47 L1197.5 50.5" fill="none" stroke="#fff" stroke-width="1" shape-rendering="auto"/>
<text x="1208.8" y="60.2" font-size="14.7" fill="#f0f0f0" textLength="39.4" lengthAdjust="spacingAndGlyphs">17.98</text>
<path d="M76 446.5 L87 446.5 M76 446.5 L79 443.5 M76 446.5 L79 449.5" fill="none" stroke="#fff" stroke-width="1" shape-rendering="auto"/>
<text x="88.8" y="450.8" font-size="14.7" fill="#f0f0f0" textLength="39.4" lengthAdjust="spacingAndGlyphs">11.25</text>
<text x="847.2" y="287.3" font-size="14.7" fill="#f0f0f0" textLength="92" lengthAdjust="spacingAndGlyphs">14.18 - 14.31</text>
<text x="1643.2" y="48.1" font-size="14.7" fill="#e0e0e0" textLength="39.4" lengthAdjust="spacingAndGlyphs">18.00</text>
<text x="1643.2" y="78.1" font-size="14.7" fill="#e0e0e0" textLength="39.4" lengthAdjust="spacingAndGlyphs">17.50</text>
<text x="1643.2" y="107.1" font-size="14.7" fill="#e0e0e0" textLength="39.4" lengthAdjust="spacingAndGlyphs">17.00</text>
<text x="1643.2" y="137.1" font-size="14.7" fill="#e0e0e0" textLength="39.4" lengthAdjust="spacingAndGlyphs">16.50</text>
<text x="1643.2" y="167.1" font-size="14.7" fill="#e0e0e0" textLength="39.4" lengthAdjust="spacingAndGlyphs">16.00</text>
<text x="1643.2" y="196.1" font-size="14.7" fill="#e0e0e0" textLength="39.4" lengthAdjust="spacingAndGlyphs">15.50</text>
<text x="1643.2" y="226.1" font-size="14.7" fill="#e0e0e0" textLength="39.4" lengthAdjust="spacingAndGlyphs">15.00</text>
<text x="1643.2" y="256.1" font-size="14.7" fill="#e0e0e0" textLength="39.4" lengthAdjust="spacingAndGlyphs">14.50</text>
<text x="1643.2" y="286.1" font-size="14.7" fill="#e0e0e0" textLength="39.4" lengthAdjust="spacingAndGlyphs">14.00</text>
<text x="1643.2" y="315.1" font-size="14.7" fill="#e0e0e0" textLength="39.4" lengthAdjust="spacingAndGlyphs">13.50</text>
<text x="1643.2" y="345.1" font-size="14.7" fill="#e0e0e0" textLength="39.4" lengthAdjust="spacingAndGlyphs">13.00</text>
<text x="1643.2" y="375.1" font-size="14.7" fill="#e0e0e0" textLength="39.4" lengthAdjust="spacingAndGlyphs">12.50</text>
<text x="1643.2" y="404.1" font-size="14.7" fill="#e0e0e0" textLength="39.4" lengthAdjust="spacingAndGlyphs">12.00</text>
<text x="1643.2" y="434.1" font-size="14.7" fill="#e0e0e0" textLength="39.4" lengthAdjust="spacingAndGlyphs">11.50</text>
<text x="1638.3" y="494.3" font-size="14.7" fill="#e0e0e0" textLength="44.2" lengthAdjust="spacingAndGlyphs">40000</text>
<text x="1638.3" y="531.3" font-size="14.7" fill="#e0e0e0" textLength="44.2" lengthAdjust="spacingAndGlyphs">30000</text>
<text x="1638.3" y="568.3" font-size="14.7" fill="#e0e0e0" textLength="44.2" lengthAdjust="spacingAndGlyphs">20000</text>
<text x="1638.3" y="606.3" font-size="14.7" fill="#e0e0e0" textLength="44.2" lengthAdjust="spacingAndGlyphs">10000</text>
<text x="1639.7" y="636.1" font-size="14.7" fill="#e0e0e0" textLength="28.6" lengthAdjust="spacingAndGlyphs">X10</text>
<text x="1651.8" y="671.1" font-size="14.7" fill="#e0e0e0" textLength="31.4" lengthAdjust="spacingAndGlyphs">1.00</text>
<text x="1651.8" y="713.1" font-size="14.7" fill="#e0e0e0" textLength="31.4" lengthAdjust="spacingAndGlyphs">0.80</text>
<text x="1651.8" y="756.1" font-size="14.7" fill="#e0e0e0" textLength="31.4" lengthAdjust="spacingAndGlyphs">0.60</text>
<text x="1651.8" y="798.1" font-size="14.7" fill="#e0e0e0" textLength="31.4" lengthAdjust="spacingAndGlyphs">0.40</text>
<text x="1651.8" y="840.1" font-size="14.7" fill="#e0e0e0" textLength="31.4" lengthAdjust="spacingAndGlyphs">0.20</text>
<text x="27.5" y="898" font-size="15.5" fill="#e0e0e0">2021</text>
<text x="62" y="898.7" font-size="14.2" fill="#e0e0e0">年</text>
<text x="457.5" y="898" font-size="15.5" fill="#e0e0e0">4</text>
<text x="957.5" y="898" font-size="15.5" fill="#e0e0e0">5</text>
<text x="1386" y="898" font-size="15.5" fill="#e0e0e0">6</text>
<text x="1649.8" y="899.8" font-size="14.3" fill="#e0e0e0">日线</text>
<text x="81.25" y="35.3" font-size="15.69" fill="#fff">(</text>
<text x="116.85" y="35.3" font-size="15.69" fill="#fff">.</text>
<text x="166.77" y="35.3" font-size="15.69" fill="#fff">)</text>
<text x="20.5" y="35" font-size="15" fill="#fff">深圳华强</text>
<text x="87" y="35" font-size="15" fill="#fff">日线</text>
<text x="121.4" y="35" font-size="15" fill="#fff">前复权</text>
<g shape-rendering="auto"><circle cx="183.7" cy="29.7" r="6" fill="#808080"/><path d="M180.5 28.7 l3.2 3 l3.2 -3" fill="none" stroke="#1c1c1c" stroke-width="1.1"/></g>
<text x="193.6" y="35" font-size="15" fill="#fff">默认主图</text>
<text x="260" y="35.3" font-size="15" fill="#fff" textLength="81.6" lengthAdjust="spacingAndGlyphs">MA5: 15.99</text>
<path d="M346.5 23 V35.2" stroke="#54ffff" stroke-width="1" fill="none" shape-rendering="auto"/><path d="M346.5 37.2 l2.6 -5 h-5.2 z" fill="#54ffff" shape-rendering="auto"/>
<text x="357.8" y="35.3" font-size="15" fill="#ff0000" textLength="91.2" lengthAdjust="spacingAndGlyphs">MA10: 16.09</text>
<text x="454.8" y="35.3" font-size="15" fill="#ffff00" textLength="90.6" lengthAdjust="spacingAndGlyphs">MA20: 16.29</text>
<path d="M550.5 24.8 V37" stroke="#ff3030" stroke-width="1" fill="none" shape-rendering="auto"/><path d="M550.5 22.8 l2.6 5 h-5.2 z" fill="#ff3030" shape-rendering="auto"/>
<text x="561" y="35.3" font-size="15" fill="#0000ff" textLength="90.6" lengthAdjust="spacingAndGlyphs">MA60: 14.23</text>
<path d="M657.5 24.8 V37" stroke="#ff3030" stroke-width="1" fill="none" shape-rendering="auto"/><path d="M657.5 22.8 l2.6 5 h-5.2 z" fill="#ff3030" shape-rendering="auto"/>
<g shape-rendering="auto"><circle cx="26" cy="475" r="6" fill="#808080"/><path d="M22.8 474 l3.2 3 l3.2 -3" fill="none" stroke="#1c1c1c" stroke-width="1.1"/></g>
<text x="36" y="480.2" font-size="15" fill="#fff" textLength="226.8" lengthAdjust="spacingAndGlyphs">VOL-TDX(5,10) VVOL: 73932.58</text>
<path d="M267.5 469.8 V482" stroke="#ff3030" stroke-width="1" fill="none" shape-rendering="auto"/><path d="M267.5 467.8 l2.6 5 h-5.2 z" fill="#ff3030" shape-rendering="auto"/>
<text x="283.2" y="480.2" font-size="15" fill="#d0be00" textLength="138.4" lengthAdjust="spacingAndGlyphs">VOLUME: 19099.25</text>
<path d="M426.5 468 V480.2" stroke="#54ffff" stroke-width="1" fill="none" shape-rendering="auto"/><path d="M426.5 482.2 l2.6 -5 h-5.2 z" fill="#54ffff" shape-rendering="auto"/>
<text x="437.4" y="480.2" font-size="15" fill="#d0be00" textLength="109" lengthAdjust="spacingAndGlyphs">MA5: 57308.52</text>
<path d="M551.5 468 V480.2" stroke="#54ffff" stroke-width="1" fill="none" shape-rendering="auto"/><path d="M551.5 482.2 l2.6 -5 h-5.2 z" fill="#54ffff" shape-rendering="auto"/>
<text x="562.4" y="480.2" font-size="15" fill="#cc00cc" textLength="117.9" lengthAdjust="spacingAndGlyphs">MA10: 93484.20</text>
<path d="M685.5 468 V480.2" stroke="#54ffff" stroke-width="1" fill="none" shape-rendering="auto"/><path d="M685.5 482.2 l2.6 -5 h-5.2 z" fill="#54ffff" shape-rendering="auto"/>
<g shape-rendering="auto"><circle cx="26" cy="652" r="6" fill="#808080"/><path d="M22.8 651 l3.2 3 l3.2 -3" fill="none" stroke="#1c1c1c" stroke-width="1.1"/></g>
<text x="126.23" y="657.3" font-size="15.54" fill="#fff"> </text>
<text x="160.62" y="657.3" font-size="15.54" fill="#fff">: 0.00</text>
<text x="36.2" y="657" font-size="15" fill="#fff">强势选股公式</text>
<text x="130.6" y="657" font-size="15" fill="#fff">有福</text>
<path d="M809.5 456.5 L812 453.5 L814.5 456.5 Z" fill="#ff0000" shape-rendering="auto"/>
<text x="808.4" y="465" font-size="10.2" fill="#ff0000" textLength="7.4" lengthAdjust="spacingAndGlyphs" font-weight="bold">S</text>
<path d="M878 452 H888.5 L891 454.5 V465 H878 Z" fill="#10407f" shape-rendering="auto"/>
<text x="878.4" y="463" font-size="11.5" fill="#fff">财</text>
<path d="M949 452 H959.5 L962 454.5 V465 H949 Z" fill="#7a0000" shape-rendering="auto"/>
<text x="949.4" y="463" font-size="11.5" fill="#fff">涨</text>
<text x="21.3" y="913.5" font-size="11.8" fill="#f2f2f2">指标</text>
<text x="51.3" y="913.5" font-size="11.8" fill="#f2f2f2">模板</text>
<text x="81.7" y="913.5" font-size="11.8" fill="#54ffff">管理</text>
<text x="114" y="913.5" font-size="11.8" fill="#f2f2f2">另存为</text>
<text x="157.1" y="913.5" font-size="11.8" fill="#f2f2f2">绑定到</text>
<text x="200.7" y="913.5" font-size="11.8" fill="#f2f2f2">标准版</text>
<rect x="18" y="901" width="1" height="14" fill="#2e2e30"/>
<rect x="48" y="901" width="1" height="14" fill="#2e2e30"/>
<rect x="78" y="901" width="1" height="14" fill="#2e2e30"/>
<rect x="109" y="901" width="1" height="14" fill="#2e2e30"/>
<rect x="153" y="901" width="1" height="14" fill="#2e2e30"/>
<rect x="197" y="901" width="1" height="14" fill="#2e2e30"/>
<rect x="241" y="901" width="1" height="14" fill="#2e2e30"/>
<rect x="1637" y="901" width="1" height="14" fill="#2e2e30"/>
<rect x="1662" y="901" width="1" height="14" fill="#2e2e30"/>
<rect x="1687" y="901" width="1" height="14" fill="#2e2e30"/>
<text x="1646.2" y="913" font-size="13" fill="#e6e6e6">+</text>
<rect x="1672" y="908" width="6" height="1" fill="#e6e6e6"/>
<text x="1473" y="883" font-size="37" font-weight="bold" fill="#ffffff">财富池</text>
<text x="1590.3" y="866.6" font-size="14.42" fill="#ffffff" font-weight="bold">cfchi.com</text>
<text x="1591.5" y="884" font-size="10.9" font-weight="bold" fill="#ffffff">指标交易平台</text></svg></body></html>
